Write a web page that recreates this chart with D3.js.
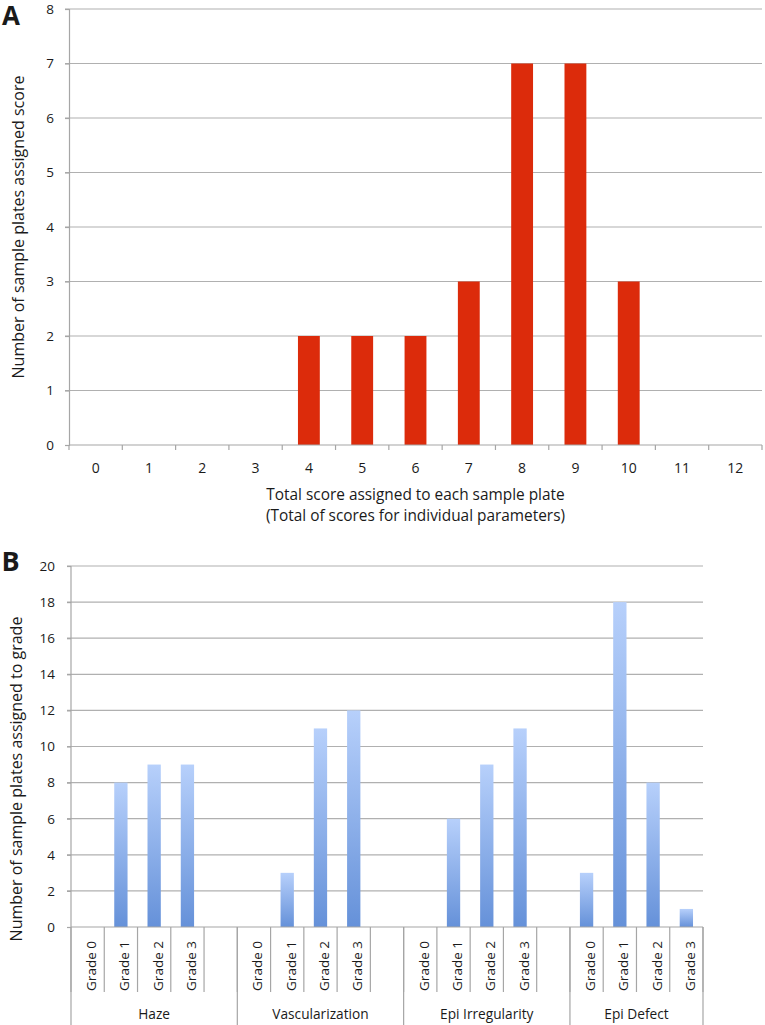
<!DOCTYPE html>
<html>
<head>
<meta charset="utf-8">
<script src="https://cdn.jsdelivr.net/npm/d3@7/dist/d3.min.js"></script>
<style>
  html, body { margin: 0; padding: 0; background: #fff; }
  svg { display: block; }
  text { font-family: "Open Sans", "DejaVu Sans", sans-serif; fill: #1a1a1a; }
</style>
</head>
<body>
<svg id="chart" width="765" height="1025"></svg>
<script>
// ---------- Data ----------
const scoresA = ["0","1","2","3","4","5","6","7","8","9","10","11","12"];
const countsA = [0, 0, 0, 0, 2, 2, 2, 3, 7, 7, 3, 0, 0];
const ticksA = [0, 1, 2, 3, 4, 5, 6, 7, 8];

const groupsB = ["Haze", "Vascularization", "Epi Irregularity", "Epi Defect"];
const gradesB = ["Grade 0", "Grade 1", "Grade 2", "Grade 3"];
const hazeB = [0, 8, 9, 9];
const vascB = [0, 3, 11, 12];
const epiIrrB = [0, 6, 9, 11];
const epiDefB = [3, 18, 8, 1];
const ticksB = [0, 2, 4, 6, 8, 10, 12, 14, 16, 18, 20];

const svg = d3.select("#chart");
const gridColor = "#b0b0b0";
const axisColor = "#a6a6a6";

const defs = svg.append("defs");
const grad = defs.append("linearGradient").attr("id", "blueGrad")
  .attr("x1", 0).attr("y1", 0).attr("x2", 0).attr("y2", 1);
grad.append("stop").attr("offset", "0%").attr("stop-color", "#b7d0fb");
grad.append("stop").attr("offset", "100%").attr("stop-color", "#6591d9");

// ---------- Panel A ----------
{
  const L = 69, R = 762, T = 9, B = 445;
  const x = d3.scaleBand().domain(scoresA).range([L, R]).paddingInner(0.59).paddingOuter(0.295);
  const y = d3.scaleLinear().domain([0, 8]).range([B, T]);
  const g = svg.append("g");

  g.selectAll("line.grid").data(ticksA.filter(d => d > 0)).join("line")
    .attr("x1", L - 4).attr("x2", R).attr("y1", d => y(d)).attr("y2", d => y(d))
    .attr("stroke", gridColor).attr("stroke-width", 1.2);

  const ya = g.append("g").attr("transform", `translate(${L},0)`)
    .call(d3.axisLeft(y).tickValues(ticksA).tickSize(4).tickPadding(11).tickFormat(d3.format("d")));
  ya.selectAll("path, line").attr("stroke", axisColor).attr("stroke-width", 1.2);
  ya.selectAll("text").attr("font-size", 13.5).attr("font-family", "Open Sans").attr("fill", "#1a1a1a");

  g.selectAll("rect.bar").data(scoresA.map((s, i) => ({ s, v: countsA[i] })).filter(d => d.v > 0)).join("rect")
    .attr("x", d => x(d.s)).attr("width", x.bandwidth())
    .attr("y", d => y(d.v)).attr("height", d => y(0) - y(d.v))
    .attr("fill", "#dc2b0b");

  g.append("line").attr("x1", L).attr("x2", R).attr("y1", B).attr("y2", B)
    .attr("stroke", axisColor).attr("stroke-width", 1.2);
  const step = x.step();
  const bounds = d3.range(scoresA.length + 1).map(i => L + i * step);
  g.selectAll("line.xt").data(bounds).join("line")
    .attr("x1", d => d).attr("x2", d => d).attr("y1", B).attr("y2", B + 5)
    .attr("stroke", axisColor).attr("stroke-width", 1.2);
  g.selectAll("text.xl").data(scoresA).join("text")
    .attr("x", d => x(d) + x.bandwidth() / 2).attr("y", 473)
    .attr("text-anchor", "middle").attr("font-size", 14).text(d => d);

  g.append("text").attr("x", (L + R) / 2).attr("y", 500).attr("text-anchor", "middle")
    .attr("font-size", 15.4).text("Total score assigned to each sample plate");
  g.append("text").attr("x", (L + R) / 2).attr("y", 521).attr("text-anchor", "middle")
    .attr("font-size", 15.4).text("(Total of scores for individual parameters)");
  g.append("text").attr("transform", `translate(24,${(T + B) / 2}) rotate(-90)`)
    .attr("text-anchor", "middle").attr("font-size", 16).text("Number of sample plates assigned score");

  svg.append("text").attr("x", 2).attr("y", 24.5).attr("font-family", "Liberation Sans, Arial, sans-serif")
    .attr("font-weight", "bold").attr("font-size", 26).attr("fill", "#000").text("A");
}

// ---------- Panel B ----------
{
  const L = 71, R = 703, T = 566, B = 927;
  const valuesB = [hazeB, vascB, epiIrrB, epiDefB];
  const slots = [];
  groupsB.forEach((gname, gi) => {
    gradesB.forEach((gr, ri) => slots.push({ key: gname + "|" + gr, group: gname, grade: gr, v: valuesB[gi][ri] }));
    if (gi < groupsB.length - 1) slots.push({ key: gname + "|gap", group: gname, grade: "", v: null });
  });
  const x = d3.scaleBand().domain(slots.map(d => d.key)).range([L, R]).paddingInner(0.6).paddingOuter(0.3);
  const y = d3.scaleLinear().domain([0, 20]).range([B, T]);
  const g = svg.append("g");

  g.selectAll("line.grid").data(ticksB.filter(d => d > 0)).join("line")
    .attr("x1", L - 4).attr("x2", R).attr("y1", d => y(d)).attr("y2", d => y(d))
    .attr("stroke", gridColor).attr("stroke-width", 1.2);

  const ya = g.append("g").attr("transform", `translate(${L},0)`)
    .call(d3.axisLeft(y).tickValues(ticksB).tickSize(4).tickPadding(12).tickFormat(d3.format("d")));
  ya.selectAll("path, line").attr("stroke", axisColor).attr("stroke-width", 1.2);
  ya.select("path.domain").remove();
  ya.selectAll("text").attr("font-size", 13.5).attr("font-family", "Open Sans").attr("fill", "#1a1a1a");

  g.selectAll("rect.bar").data(slots.filter(d => d.v)).join("rect")
    .attr("x", d => x(d.key)).attr("width", x.bandwidth())
    .attr("y", d => y(d.v)).attr("height", d => y(0) - y(d.v))
    .attr("fill", "url(#blueGrad)");

  g.append("line").attr("x1", L).attr("x2", R).attr("y1", B).attr("y2", B)
    .attr("stroke", axisColor).attr("stroke-width", 1.2);

  const step = x.step();
  g.selectAll("line.sep").data(d3.range(slots.length + 1).map(i => L + i * step)).join("line")
    .attr("x1", d => d).attr("x2", d => d).attr("y1", B).attr("y2", 992)
    .attr("stroke", axisColor).attr("stroke-width", 1.2);
  const groupBounds = [0, 5, 10, 15, 19].map(i => L + i * step);
  g.selectAll("line.gsep").data(groupBounds).join("line")
    .attr("x1", d => d).attr("x2", d => d)
    .attr("y1", (d, i) => i === 0 ? T : B).attr("y2", 1025)
    .attr("stroke", axisColor).attr("stroke-width", 1.2);

  g.selectAll("text.gr").data(slots.filter(d => d.grade)).join("text")
    .attr("transform", d => `translate(${x(d.key) + x.bandwidth() / 2 + 8.5},966) rotate(-90)`)
    .attr("text-anchor", "middle").attr("font-size", 13.5).text(d => d.grade);

  g.selectAll("text.grp").data(groupsB).join("text")
    .attr("x", (d, i) => (groupBounds[i] + groupBounds[i + 1]) / 2).attr("y", 1019)
    .attr("text-anchor", "middle").attr("font-size", 13.7).text(d => d);

  g.append("text").attr("transform", `translate(22,779) rotate(-90)`)
    .attr("text-anchor", "middle").attr("font-size", 16).text("Number of sample plates assigned to grade");

  svg.append("text").attr("x", 1.5).attr("y", 571).attr("font-family", "Liberation Sans, Arial, sans-serif")
    .attr("font-weight", "bold").attr("font-size", 27).attr("fill", "#000").text("B");
}
</script>
</body>
</html>
